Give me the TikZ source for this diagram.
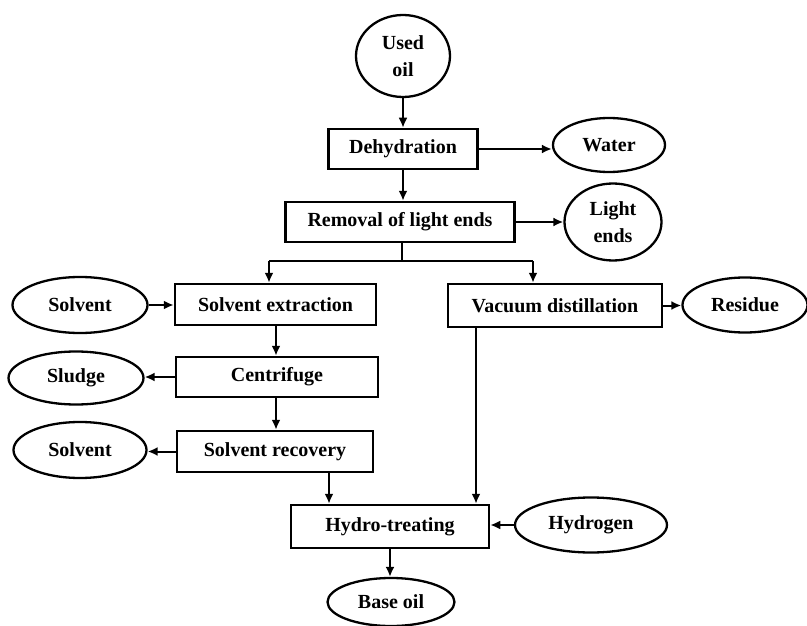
\documentclass[tikz,border=0pt]{standalone}
\usepackage{fontspec}
\setmainfont{Liberation Serif}
\usetikzlibrary{shapes.geometric,arrows.meta}
\begin{document}
\begin{tikzpicture}[x=1pt,y=-1pt,
  every node/.style={font=\fontsize{20}{27}\selectfont\bfseries, inner sep=0pt, align=center},
  procbox/.style={draw, line width=2.5pt, rectangle},
  oval/.style={draw, line width=2.3pt, ellipse},
  arr/.style={line width=2pt, -{Latex[length=10pt,width=9pt]}},
  ln/.style={line width=2pt}]
\useasboundingbox (0,0) rectangle (807,626);
% process boxes
\node[procbox, minimum width=149pt, minimum height=40pt] (dehyd) at (403,149) {Dehydration};
\node[procbox, minimum width=229pt, minimum height=40pt] (light) at (400,222) {Removal of light ends};
\node[procbox, minimum width=201pt, minimum height=41pt] (sext) at (275.5,304.5) {Solvent extraction};
\node[procbox, minimum width=202pt, minimum height=40pt] (centr) at (277,377) {Centrifuge};
\node[procbox, minimum width=196pt, minimum height=41pt] (srec) at (275,451.5) {Solvent recovery};
\node[procbox, minimum width=214pt, minimum height=43pt] (vac) at (555,305.5) {Vacuum distillation};
\node[procbox, minimum width=198pt, minimum height=43pt] (hydro) at (390,526.5) {Hydro-treating};
% ellipses
\node[oval, minimum width=94pt, minimum height=82pt] (used) at (403,56) {Used\\oil};
\node[oval, minimum width=112pt, minimum height=54pt] (water) at (609,145) {Water};
\node[oval, minimum width=97pt, minimum height=77pt] (lends) at (613,222) {Light\\ends};
\node[oval, minimum width=135pt, minimum height=56pt] (solv1) at (80,305) {Solvent};
\node[oval, minimum width=135pt, minimum height=53pt] (sludge) at (76,378) {Sludge};
\node[oval, minimum width=133pt, minimum height=56pt] (solv2) at (80,450) {Solvent};
\node[oval, minimum width=125pt, minimum height=55pt] (resid) at (745,305) {Residue};
\node[oval, minimum width=152pt, minimum height=55pt] (hydrogen) at (591,525) {Hydrogen};
\node[oval, minimum width=127pt, minimum height=48pt] (base) at (391,602) {Base oil};
% helper coordinates
\coordinate (bj) at (402,261);
\coordinate (bl) at (269,261);
\coordinate (br) at (533,261);
\coordinate (sx) at (329,0);
\coordinate (vx) at (476,0);
\coordinate (cx) at (276,0);
% connectors
\draw[arr] (used) -- (dehyd);
\draw[arr] (dehyd.south) -- (dehyd.south |- light.north);
\draw[arr] (dehyd.east) -- (dehyd.east -| water.west);
\draw[arr] (light.east) -- (light.east -| lends.west);
\draw[ln] (light.south -| bj) -- (bj);
\draw[ln] (bl) -- (br);
\draw[arr] (bl) -- (bl |- sext.north);
\draw[arr] (br) -- (br |- vac.north);
\draw[arr] (solv1.east) -- (solv1.east -| sext.west);
\draw[arr] (sext.south -| cx) -- (centr.north -| cx);
\draw[arr] (centr.west) -- (centr.west -| sludge.east);
\draw[arr] (centr.south -| cx) -- (srec.north -| cx);
\draw[arr] (srec.west) -- (srec.west -| solv2.east);
\draw[arr] (vac.east) -- (vac.east -| resid.west);
\draw[arr] (srec.south -| sx) -- (hydro.north -| sx);
\draw[arr] (vac.south -| vx) -- (hydro.north -| vx);
\draw[arr] (hydrogen.west) -- (hydrogen.west -| hydro.east);
\draw[arr] (hydro.south) -- (hydro.south |- base.north);
\end{tikzpicture}
\end{document}
